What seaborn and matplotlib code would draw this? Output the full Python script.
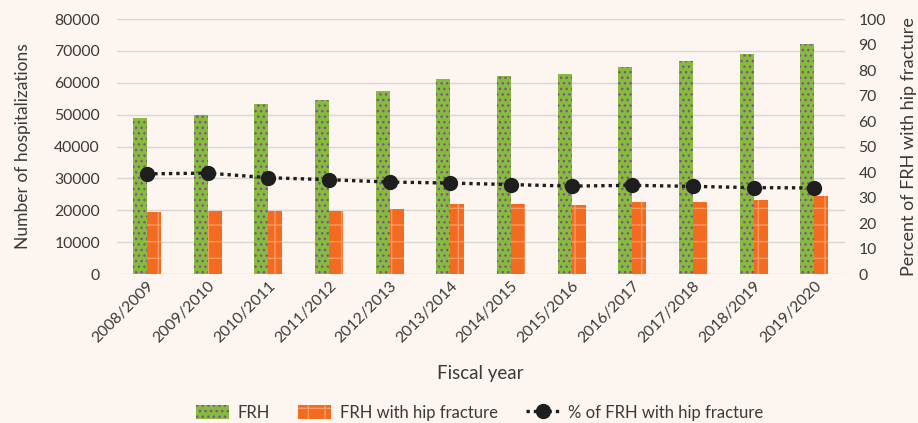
import pandas as pd
import matplotlib.pyplot as plt
import seaborn as sns
from matplotlib.patches import Patch
from matplotlib.lines import Line2D

years = ['2008/2009', '2009/2010', '2010/2011', '2011/2012', '2012/2013', '2013/2014',
         '2014/2015', '2015/2016', '2016/2017', '2017/2018', '2018/2019', '2019/2020']
frh = [49000, 50000, 53300, 54500, 57300, 61200, 62100, 62800, 64900, 66700, 68900, 72300]
frh_hip = [19400, 19900, 19900, 19900, 20500, 22100, 22100, 21600, 22700, 22700, 23200, 24400]
pct_hip = [39.3, 39.6, 37.8, 37.0, 36.1, 35.7, 35.1, 34.5, 34.8, 34.4, 33.9, 33.8]

bg = '#fdf5f0'
txt = '#3a3a3a'
green = '#84bd3a'
orange = '#f26b21'

df = pd.DataFrame({
    'Fiscal year': years * 2,
    'value': frh + frh_hip,
    'serie': ['FRH'] * len(years) + ['FRH with hip fracture'] * len(years),
})

sns.set_theme(style='white')
plt.rcParams['font.family'] = ['Lato', 'DejaVu Sans']
plt.rcParams['hatch.linewidth'] = 1.0

fig = plt.figure(figsize=(9.18, 4.23), dpi=100, facecolor=bg)
ax = fig.add_axes([0.127, 0.352, 0.793, 0.603], facecolor=bg)

sns.barplot(data=df, x='Fiscal year', y='value', hue='serie', palette=[green, orange],
            width=0.46, saturation=1, ax=ax, legend=False, zorder=2)

for bar, cat in zip(ax.patches, ['FRH'] * 12 + ['hip'] * 12):
    if cat == 'FRH':
        bar.set_hatch('...')
        bar.set_edgecolor('#8a4a9a')
    else:
        bar.set_hatch('+')
        bar.set_edgecolor('#f79a63')
    bar.set_linewidth(0)

ax.set_ylim(0, 80000)
ax.set_yticks(range(0, 80001, 10000))
ax.yaxis.grid(True, color='#dcd6d2', linewidth=1)
ax.set_axisbelow(True)
for s in ax.spines.values():
    s.set_visible(False)
ax.tick_params(axis='both', colors=txt, labelsize=11.3, length=0)
ax.tick_params(axis='y', pad=12)
ax.set_xticks(range(len(years)))
ax.set_xticklabels(years, rotation=45, ha='right', rotation_mode='anchor')
ax.set_xlabel('Fiscal year', fontsize=13.5, color=txt, labelpad=14)
ax.set_ylabel('Number of hospitalizations', fontsize=12.5, color=txt, labelpad=17)
ax.set_xlim(-0.5, len(years) - 0.5)

ax2 = ax.twinx()
ax2.plot(range(len(years)), pct_hip, linestyle=(0, (1, 1.2)), color='#1e1e1e', linewidth=2.4,
         marker='o', markersize=10, zorder=5)
ax2.set_ylim(0, 100)
ax2.set_yticks(range(0, 101, 10))
for s in ax2.spines.values():
    s.set_visible(False)
ax2.tick_params(axis='y', colors=txt, labelsize=11.3, length=0, pad=10)
ax2.set_ylabel('Percent of FRH with hip fracture', fontsize=13, color=txt)
ax2.yaxis.set_label_coords(1.078, 0.5)

handles = [
    Patch(facecolor=green, edgecolor='#8a4a9a', hatch='...', linewidth=0, label='FRH'),
    Patch(facecolor=orange, edgecolor='#f79a63', hatch='+', linewidth=0, label='FRH with hip fracture'),
    Line2D([0], [0], linestyle=(0, (1, 1.2)), color='#1e1e1e', linewidth=2.4, marker='o',
           markersize=10, label='% of FRH with hip fracture'),
]
leg = fig.legend(handles=handles, loc='lower center', bbox_to_anchor=(0.522, -0.03), ncol=3,
                 frameon=False, fontsize=12, handlelength=2.0, handleheight=0.9,
                 columnspacing=1.7, handletextpad=0.5)
for t in leg.get_texts():
    t.set_color(txt)

fig.savefig('out.png', dpi=100, facecolor=bg)
